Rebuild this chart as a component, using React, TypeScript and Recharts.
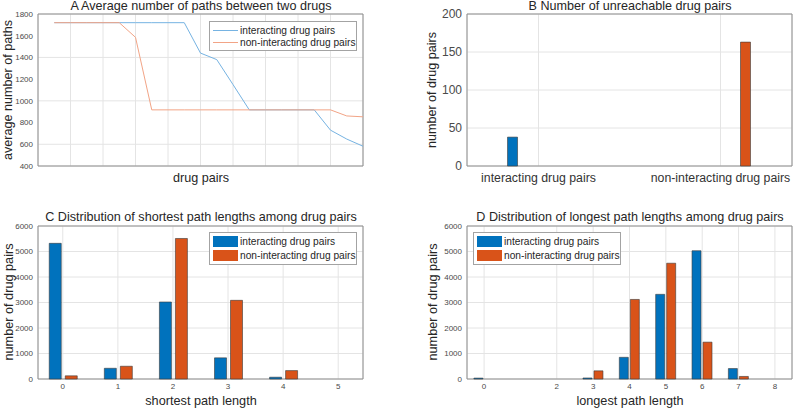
import React from 'react';
import {
  LineChart,
  Line,
  BarChart,
  Bar,
  XAxis,
  YAxis,
  CartesianGrid,
  ReferenceArea,
} from 'recharts';

// A — average number of paths, sampled along the sorted drug pairs
const pairIndex = [1, 2, 3, 4, 5, 6, 7, 8, 9, 10, 11, 12, 13, 14, 15, 16, 17, 18, 19, 20];
const avgPathsInteracting = [1720, 1720, 1720, 1720, 1720, 1720, 1720, 1720, 1720, 1440, 1380, 1150, 917, 917, 917, 917, 917, 730, 648, 582];
const avgPathsNonInteracting = [1720, 1720, 1720, 1720, 1720, 1585, 917, 917, 917, 917, 917, 917, 917, 917, 917, 917, 917, 917, 861, 853];
const avgTicksY = [400, 600, 800, 1000, 1200, 1400, 1600, 1800];
const avgTicksX = [0, 2, 4, 6, 8, 10, 12, 14, 16, 18, 20];

// B — unreachable pairs
const unreachCategories = ['interacting drug pairs', 'non-interacting drug pairs'];
const unreachInteracting = [38, 0];
const unreachNonInteracting = [0, 163];
const unreachTicksY = [0, 50, 100, 150, 200];

// C — shortest path lengths
const shortestLen = [0, 1, 2, 3, 4, 5];
const shortestInteracting = [5320, 420, 3020, 830, 70, 0];
const shortestNonInteracting = [125, 500, 5510, 3085, 330, 0];

// D — longest path lengths
const longestLen = [0, 2, 3, 4, 5, 6, 7, 8];
const longestTicksX = [0, 2, 3, 4, 5, 6, 7, 8];
const longestInteracting = [35, 0, 40, 850, 3320, 5030, 410, 0];
const longestNonInteracting = [0, 0, 320, 3120, 4540, 1445, 100, 0];

const countTicksY = [0, 1000, 2000, 3000, 4000, 5000, 6000];

const LEGEND = ['interacting drug pairs', 'non-interacting drug pairs'];

const FONT = '"Liberation Sans", Arial, Helvetica, sans-serif';
const BLUE = '#0072BD';
const ORANGE = '#D95319';
const LINE_BLUE = '#76b3e2';
const LINE_ORANGE = '#f2a486';
const GRID = '#e4e4e4';
const BOX = '#8e8e8e';
const TXT = '#262626';

const avgData = pairIndex.map((k, i) => ({
  k,
  inter: avgPathsInteracting[i],
  non: avgPathsNonInteracting[i],
}));
const unreachData = unreachCategories.map((c, i) => ({
  pos: i + 1,
  inter: unreachInteracting[i],
  non: unreachNonInteracting[i],
}));
const shortestData = shortestLen.map((len, i) => ({
  len,
  inter: shortestInteracting[i],
  non: shortestNonInteracting[i],
}));
const longestData = longestLen.map((len, i) => ({
  len,
  inter: longestInteracting[i],
  non: longestNonInteracting[i],
}));

function Txt({ x, y, size, rotate, children }: any) {
  return (
    <div
      style={{
        position: 'absolute',
        left: x,
        top: y,
        transform: `translate(-50%, -50%)${rotate ? ' rotate(-90deg)' : ''}`,
        fontSize: size,
        color: TXT,
        whiteSpace: 'nowrap',
        lineHeight: 1.2,
        zIndex: 2,
      }}
    >
      {children}
    </div>
  );
}

function LegendBox({ left, top, width, colors, swatch }: any) {
  return (
    <div
      style={{
        position: 'absolute',
        left,
        top,
        width,
        background: '#fff',
        border: '1px solid #a3a3a3',
        padding: '2px 0 2px 3px',
        boxSizing: 'border-box',
        zIndex: 2,
      }}
    >
      {LEGEND.map((label, i) => (
        <div key={label} style={{ display: 'flex', alignItems: 'center', height: swatch ? 13.5 : 12, fontSize: 10.2, color: TXT }}>
          {swatch ? (
            <div style={{ width: 25, height: 11, background: colors[i], marginRight: 2 }} />
          ) : (
            <div style={{ width: 25, height: 1, background: colors[i], marginRight: 2 }} />
          )}
          <span>{label}</span>
        </div>
      ))}
    </div>
  );
}

const smallTick = { fontSize: 8, fill: '#4a4a4a', fontFamily: FONT };
const bigTick = { fontSize: 12, fill: '#4a4a4a', fontFamily: FONT };

export default function App() {
  return (
    <div
      style={{
        position: 'absolute',
        left: 0,
        top: 0,
        width: 793,
        height: 410,
        background: '#fff',
        fontFamily: FONT,
        overflow: 'hidden',
      }}
    >
      {/* A */}
      <div style={{ position: 'absolute', left: 0, top: 0 }}>
        <LineChart width={400} height={200} data={avgData} margin={{ top: 14, right: 37, bottom: 0, left: 0 }}>
          <CartesianGrid stroke={GRID} />
          <XAxis
            dataKey="k"
            type="number"
            domain={[0, 20]}
            ticks={avgTicksX}
            tickFormatter={() => ''}
            axisLine={false}
            tickLine={false}
            height={34}
          />
          <YAxis
            domain={[400, 1800]}
            ticks={avgTicksY}
            tick={smallTick}
            axisLine={false}
            tickLine={false}
            tickSize={0}
            tickMargin={5}
            width={38}
          />
          <Line dataKey="inter" stroke={LINE_BLUE} strokeWidth={1} dot={false} isAnimationActive={false} />
          <Line dataKey="non" stroke={LINE_ORANGE} strokeWidth={1} dot={false} isAnimationActive={false} />
          <ReferenceArea x1={0} x2={20} y1={400} y2={1800} fill="none" stroke={BOX} ifOverflow="visible" />
        </LineChart>
      </div>

      {/* B */}
      <div style={{ position: 'absolute', left: 400, top: 0 }}>
        <BarChart
          width={393}
          height={200}
          data={unreachData}
          margin={{ top: 14, right: 1, bottom: 0, left: 0 }}
          barSize={10}
          barGap={41}
        >
          <CartesianGrid stroke={GRID} />
          <XAxis
            dataKey="pos"
            type="number"
            domain={[0.607, 2.393]}
            ticks={[1, 2]}
            interval={0}
            tickFormatter={(v: number) => unreachCategories[v - 1] ?? ''}
            tick={{ ...bigTick, fontSize: 12.3, fill: '#333' }}
            axisLine={false}
            tickLine={false}
            tickSize={0}
            tickMargin={7}
            height={34}
          />
          <YAxis
            domain={[0, 200]}
            ticks={unreachTicksY}
            tick={bigTick}
            axisLine={false}
            tickLine={false}
            tickSize={0}
            tickMargin={5}
            width={67}
          />
          <Bar dataKey="inter" fill={BLUE} stroke="#3a3a3a" strokeWidth={0.6} isAnimationActive={false} />
          <Bar dataKey="non" fill={ORANGE} stroke="#3a3a3a" strokeWidth={0.6} isAnimationActive={false} />
          <ReferenceArea x1={0.607} x2={2.393} y1={0} y2={200} fill="none" stroke={BOX} ifOverflow="visible" />
        </BarChart>
      </div>

      {/* C */}
      <div style={{ position: 'absolute', left: 0, top: 200 }}>
        <BarChart
          width={400}
          height={210}
          data={shortestData}
          margin={{ top: 26, right: 37, bottom: 0, left: 0 }}
          barSize={12}
          barGap={4}
        >
          <CartesianGrid stroke={GRID} />
          <XAxis
            dataKey="len"
            type="number"
            domain={[-0.45, 5.45]}
            ticks={shortestLen}
            tick={smallTick}
            axisLine={false}
            tickLine={false}
            tickSize={0}
            tickMargin={4}
            height={31}
          />
          <YAxis
            domain={[0, 6000]}
            ticks={countTicksY}
            tick={smallTick}
            axisLine={false}
            tickLine={false}
            tickSize={0}
            tickMargin={5}
            width={38}
          />
          <Bar dataKey="inter" fill={BLUE} stroke="#3a3a3a" strokeWidth={0.6} isAnimationActive={false} />
          <Bar dataKey="non" fill={ORANGE} stroke="#3a3a3a" strokeWidth={0.6} isAnimationActive={false} />
          <ReferenceArea x1={-0.45} x2={5.45} y1={0} y2={6000} fill="none" stroke={BOX} ifOverflow="visible" />
        </BarChart>
      </div>

      {/* D */}
      <div style={{ position: 'absolute', left: 400, top: 200 }}>
        <BarChart
          width={393}
          height={210}
          data={longestData}
          margin={{ top: 26, right: 1, bottom: 0, left: 0 }}
          barSize={9}
          barGap={2}
        >
          <CartesianGrid stroke={GRID} />
          <XAxis
            dataKey="len"
            type="number"
            domain={[-0.47, 8.47]}
            ticks={longestTicksX}
            tick={smallTick}
            axisLine={false}
            tickLine={false}
            tickSize={0}
            tickMargin={4}
            height={31}
          />
          <YAxis
            domain={[0, 6000]}
            ticks={countTicksY}
            tick={smallTick}
            axisLine={false}
            tickLine={false}
            tickSize={0}
            tickMargin={5}
            width={67}
          />
          <Bar dataKey="inter" fill={BLUE} stroke="#3a3a3a" strokeWidth={0.6} isAnimationActive={false} />
          <Bar dataKey="non" fill={ORANGE} stroke="#3a3a3a" strokeWidth={0.6} isAnimationActive={false} />
          <ReferenceArea x1={-0.47} x2={8.47} y1={0} y2={6000} fill="none" stroke={BOX} ifOverflow="visible" />
        </BarChart>
      </div>

      <Txt x={201} y={7} size={12.6}>A Average number of paths between two drugs</Txt>
      <Txt x={9} y={90} size={12.6} rotate>average number of paths</Txt>
      <Txt x={201} y={179} size={12.6}>drug pairs</Txt>
      <LegendBox left={209} top={21} width={148} colors={[LINE_BLUE, LINE_ORANGE]} />

      <Txt x={630} y={7} size={12.6}>B Number of unreachable drug pairs</Txt>
      <Txt x={433} y={90} size={12.6} rotate>number of drug pairs</Txt>

      <Txt x={201} y={217.5} size={12.6}>C Distribution of shortest path lengths among drug pairs</Txt>
      <Txt x={10} y={302} size={12.7} rotate>number of drug pairs</Txt>
      <Txt x={201} y={402} size={12.7}>shortest path length</Txt>
      <LegendBox left={209} top={232} width={148} colors={[BLUE, ORANGE]} swatch />

      <Txt x={630} y={217.5} size={12.6}>D Distribution of longest path lengths among drug pairs</Txt>
      <Txt x={434} y={302} size={12.7} rotate>number of drug pairs</Txt>
      <Txt x={630} y={402} size={12.7}>longest path length</Txt>
      <LegendBox left={473} top={232} width={148} colors={[BLUE, ORANGE]} swatch />
    </div>
  );
}
